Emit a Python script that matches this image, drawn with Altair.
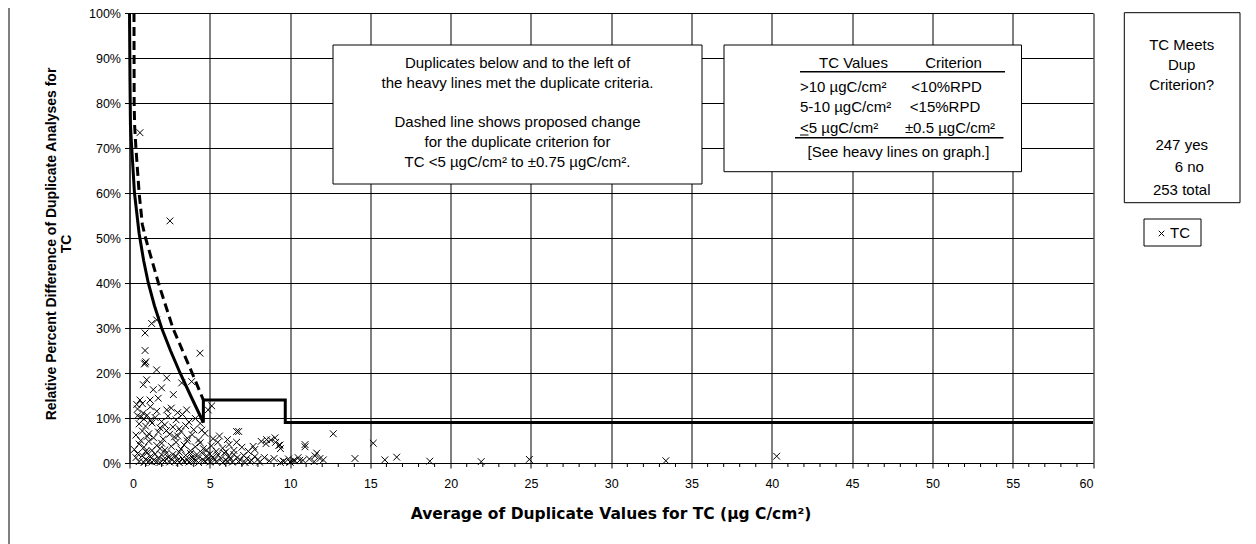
import altair as alt
import pandas as pd

# ---------------- data ----------------
tc_x = [0.65, 2.52, 1.38, 1.69, 0.97, 0.97, 0.97, 1.02, 0.93, 4.39, 1.69, 1.07, 2.32, 0.86, 2.0, 1.48,
        3.25, 3.87, 2.73, 0.65, 1.28, 1.79, 5.12, 4.9, 0.86, 0.45, 3.56, 2.32, 6.67, 8.54, 9.06, 6.67,
        7.7, 9.58,
        12.69, 15.18, 10.93, 10.93, 11.66, 11.55, 16.64, 15.9, 14.04, 12.07, 18.7, 10.3, 10.0, 10.6,
        9.37, 9.4, 11.86, 21.9, 24.9, 33.4, 40.3,
        0.5, 0.7, 0.9, 1.1, 1.3, 1.6, 2.0, 2.4, 2.9, 3.3, 3.7, 4.1, 0.6, 1.0, 1.4, 1.9, 2.2, 2.7, 3.1,
        3.5, 4.0, 4.4,
        0.4, 0.8, 1.2, 1.5, 1.8, 2.1, 2.5, 2.8, 3.2, 3.6, 3.9, 4.3, 4.7, 5.2, 5.6, 6.1, 6.8, 0.7, 1.1,
        2.3, 3.0, 4.5,
        0.3, 0.6, 0.9, 1.2, 1.4, 1.7, 2.0, 2.2, 2.6, 2.9, 3.2, 3.4, 3.8, 4.1, 4.4, 4.8, 5.1, 5.4, 5.8,
        6.2, 6.5, 7.0, 7.4, 7.8, 8.2, 8.5, 8.8, 9.1, 9.3, 1.0, 1.9, 3.6, 4.6, 5.5, 6.0,
        0.4, 0.5, 0.8, 1.0, 1.1, 1.3, 1.5, 1.6, 1.8, 2.0, 2.1, 2.3, 2.4, 2.6, 2.7, 2.9, 3.0, 3.1, 3.3,
        3.5, 3.6, 3.8, 3.9, 4.0, 4.2, 4.3, 4.5, 4.6, 4.8, 4.9, 5.0, 5.2, 5.3, 5.5, 5.7, 5.9, 6.0, 6.2,
        6.3, 6.5, 6.7, 6.9, 7.1, 7.3, 7.6, 7.8, 8.0, 8.4, 8.7, 9.0, 9.6, 9.9, 10.2, 10.5, 10.8, 11.2,
        0.6, 0.9, 1.2, 1.4, 1.7, 1.9, 2.2, 2.5, 2.8, 3.1, 3.4, 3.7, 4.0, 4.3, 4.7, 5.0, 5.4, 5.8, 6.1,
        6.4, 6.8, 7.2, 7.5, 8.1, 9.4, 10.0, 11.5,
        1.3, 0.8, 2.6, 3.0, 1.7, 0.5]
tc_y = [73.4, 53.8, 31.0, 31.8, 28.9, 25.0, 22.2, 22.5, 22.0, 24.4, 20.7, 18.5, 18.9, 17.4, 16.7, 16.3,
        17.8, 18.1, 15.2, 14.0, 14.0, 14.4, 12.7, 11.8, 11.1, 13.0, 11.8, 11.8, 7.0, 5.2, 5.6, 4.6,
        3.7, 0.4,
        6.5, 4.4, 4.1, 3.6, 2.2, 1.6, 1.3, 0.7, 1.0, 0.7, 0.4, 0.5, 0.2, 0.6,
        4.0, 3.2, 1.0, 0.3, 0.8, 0.5, 1.5,
        10.5, 10.2, 9.8, 10.6, 9.5, 10.1, 9.2, 10.4, 9.6, 10.8, 9.1, 9.9, 8.7, 8.2, 8.9, 7.8, 8.5, 8.0,
        7.6, 8.3, 7.4, 8.8,
        6.2, 7.1, 6.5, 5.6, 6.9, 5.3, 6.4, 5.8, 7.0, 5.5, 6.3, 5.1, 6.6, 5.4, 6.0, 5.2, 7.0, 5.0, 5.9,
        7.2, 6.0, 7.3,
        3.0, 4.2, 3.5, 4.8, 2.8, 3.9, 4.4, 2.9, 3.7, 4.6, 3.1, 4.0, 2.7, 3.6, 4.5, 2.9, 3.8, 2.6, 3.3,
        4.1, 2.8, 3.5, 2.6, 3.0, 4.8, 4.3, 5.1, 4.6, 3.9, 2.6, 3.2, 4.9, 3.2, 4.6, 2.5,
        1.2, 2.1, 1.6, 0.8, 2.3, 1.4, 0.6, 2.0, 1.1, 1.8, 0.7, 2.2, 1.3, 0.9, 1.9, 1.5, 0.6, 2.4, 1.0,
        1.7, 0.7, 2.1, 1.3, 0.8, 1.9, 1.1, 2.3, 0.6, 1.6, 0.9, 2.0, 1.3, 0.7, 1.8, 1.0, 2.2, 0.6, 1.5,
        0.9, 1.9, 1.2, 0.7, 1.7, 1.0, 0.6, 1.4, 0.8, 1.2, 0.5, 1.0, 0.4, 0.9, 0.5, 1.2, 0.6, 0.9,
        0.3, 0.1, 0.4, 0.2, 0.3, 0.1, 0.4, 0.2, 0.3, 0.1, 0.4, 0.2, 0.3, 0.1, 0.4, 0.2, 0.3, 0.1, 0.4,
        0.2, 0.3, 0.1, 0.3, 0.2, 0.1, 0.2, 0.3,
        12.5, 13.2, 12.2, 11.2, 11.5, 12.0]

# heavy solid criterion line (curve for <5, then 5-10 step, then >10)
solid_x = [0.0, 0.03, 0.06, 0.14, 0.31, 0.6, 0.88, 1.17, 1.55, 2.0, 2.55, 3.15, 3.8, 4.6, 4.6, 9.7, 9.7, 60.0]
solid_y = [100, 85, 75, 70, 60, 51, 45, 40, 35, 30, 25, 20, 15, 9, 14, 14, 9, 9]

# dashed proposed criterion line
dashed_x = [0.28, 0.29, 0.32, 0.4, 0.5, 0.6, 0.8, 1.0, 1.4, 1.8, 2.25, 2.7, 3.3, 3.9, 4.6]
dashed_y = [100, 80, 75, 70, 65, 60, 53, 50, 45, 40, 35, 30, 25, 20, 14]

x_major = list(range(0, 61, 5))
x_minor = [v for v in range(0, 61) if v % 5 != 0]
y_major = list(range(0, 101, 10))

FONT = "Liberation Sans"
BOXFS = 15

df_tc = pd.DataFrame({"x": tc_x, "y": tc_y})
df_solid = pd.DataFrame({"x": solid_x, "y": solid_y, "i": range(len(solid_x))})
df_dash = pd.DataFrame({"x": dashed_x, "y": dashed_y, "i": range(len(dashed_x))})
df_minor = pd.DataFrame({"t": x_minor})
one = pd.DataFrame({"a": [0]})

xs = alt.Scale(domain=[0, 60], nice=False, zero=False)
ys = alt.Scale(domain=[0, 100], nice=False)

xaxis = alt.Axis(values=x_major, grid=True, gridColor="black", gridWidth=1, domainColor="black",
                 tickColor="black", tickSize=5, labelFont=FONT, labelFontSize=12.5, labelColor="black",
                 labelPadding=9, title=None)
yaxis = alt.Axis(values=y_major, grid=True, gridColor="black", gridWidth=1, domainColor="black",
                 tickColor="black", tickSize=5, labelFont=FONT, labelFontSize=12.5, labelColor="black",
                 labelPadding=4, labelExpr="datum.value + '%'", title=None)

base_axes = alt.Chart(df_tc).mark_point(opacity=0).encode(
    x=alt.X("x:Q", scale=xs, axis=xaxis), y=alt.Y("y:Q", scale=ys, axis=yaxis))

minor = alt.Chart(df_minor).mark_rule(color="black", strokeWidth=1).encode(
    x=alt.X("t:Q", scale=xs), y=alt.value(450), y2=alt.value(454))

XSHAPE = "M-1,-1L1,1M-1,1L1,-1"
points = alt.Chart(df_tc).mark_point(shape=XSHAPE, size=46, filled=False, stroke="black",
                                     strokeWidth=1, opacity=1).encode(
    x=alt.X("x:Q", scale=xs), y=alt.Y("y:Q", scale=ys))

solid = alt.Chart(df_solid).mark_line(color="black", strokeWidth=3, strokeJoin="miter").encode(
    x=alt.X("x:Q", scale=xs), y=alt.Y("y:Q", scale=ys), order="i:Q")

dashed = alt.Chart(df_dash).mark_line(color="black", strokeWidth=3, strokeDash=[9, 5]).encode(
    x=alt.X("x:Q", scale=xs), y=alt.Y("y:Q", scale=ys), order="i:Q")


def box(x1, x2, y1, y2):
    return alt.Chart(one).mark_rect(fill="white", stroke="black", strokeWidth=1).encode(
        x=alt.value(x1), x2=alt.value(x2), y=alt.value(y1), y2=alt.value(y2))


def hline(x1, x2, y, w=1.5):
    return alt.Chart(one).mark_rule(color="black", strokeWidth=w).encode(
        x=alt.value(x1), x2=alt.value(x2), y=alt.value(y))


def txt(s, x, y, align="center", size=BOXFS, bold=False, angle=0, font=FONT):
    return alt.Chart(one).mark_text(font=font, fontSize=size, align=align, baseline="middle",
                                    color="black", fontWeight="bold" if bold else "normal",
                                    angle=angle).encode(
        x=alt.value(x), y=alt.value(y), text=alt.value(s))


layers = [base_axes, minor, solid, dashed, points]

# note box
layers += [box(203.5, 572.5, 32, 171),
           txt("Duplicates below and to the left of", 388, 50),
           txt("the heavy lines met the duplicate criteria.", 388, 70),
           txt("Dashed line shows proposed change", 388, 109),
           txt("for the duplicate criterion for", 388, 129),
           txt("TC <5 µgC/cm² to ±0.75 µgC/cm².", 388, 149)]

# criteria table box
layers += [box(594.5, 892, 32, 158.7),
           txt("TC Values", 724, 50), txt("Criterion", 824, 50),
           hline(670.5, 875.5, 58.7),
           txt(">10 µgC/cm²", 670.5, 73.7, align="left"), txt("<10%RPD", 817, 73.7),
           txt("5-10 µgC/cm²", 670.5, 93.7, align="left"), txt("<15%RPD", 815.5, 93.7),
           txt("<5 µgC/cm²", 670.5, 115.3, align="left"), txt("±0.5 µgC/cm²", 820.5, 115.3),
           hline(670.5, 679, 122, 1),
           hline(665.5, 874, 124.7),
           txt("[See heavy lines on graph.]", 769, 138.7)]

# count box
layers += [box(994.8, 1110.5, -0.3, 189.7),
           txt("TC Meets", 1052.2, 32), txt("Dup", 1052.2, 52), txt("Criterion?", 1052.2, 72),
           txt("247 yes", 1052.2, 132), txt("6 no", 1059.8, 153.7), txt("253 total", 1052.2, 177)]

# legend box
layers += [box(1014.5, 1071.5, 206, 233),
           alt.Chart(one).mark_point(shape=XSHAPE, size=30, filled=False, stroke="black",
                                     strokeWidth=1, opacity=1).encode(
               x=alt.value(1032), y=alt.value(220.5)),
           txt("TC", 1040.5, 219.5, align="left")]

# axis titles
layers += [txt("Relative Percent Difference of Duplicate Analyses for", -77.5, 231, size=14, bold=True, angle=270),
           txt("TC", -62.5, 231, size=14, bold=True, angle=270),
           txt("Average of Duplicate Values for TC (µg C/cm²)", 481.5, 501, size=15.5, bold=True,
               font="DejaVu Sans")]

# outer frame left edge
layers += [alt.Chart(one).mark_rule(color="black", strokeWidth=1).encode(
    x=alt.value(-120.5), y=alt.value(-5), y2=alt.value(531))]

chart = alt.layer(*layers).properties(
    width=963.5, height=450,
    padding={"left": 121.5, "top": 5, "right": 150, "bottom": 81},
    autosize=alt.AutoSizeParams(type="none"),
).configure_view(stroke=None)

chart.save("out.html", embed_options={"renderer": "svg", "actions": False})
